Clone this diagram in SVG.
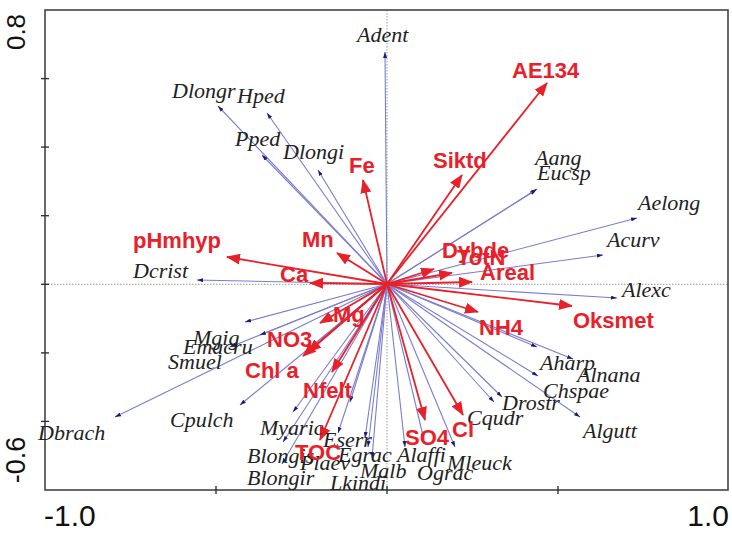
<svg xmlns="http://www.w3.org/2000/svg" width="732" height="533" viewBox="0 0 732 533">
<defs>
<style>
.sp{font-family:"Liberation Serif","Times New Roman",serif;font-style:italic;font-size:22px;fill:#222}
.env{font-family:"Liberation Sans",Arial,sans-serif;font-weight:bold;font-size:22px;fill:#e8202a}
.ax{font-family:"Liberation Sans",Arial,sans-serif;fill:#111}
.bl{stroke:#7c7cd0;stroke-width:1.1;fill:none;marker-end:url(#ahb)}
.rd{stroke:#e8202a;stroke-width:1.8;fill:none;marker-end:url(#ahr)}
.frame{stroke:#444;stroke-width:1.6;fill:none}
.dot{stroke:#9a9a9a;stroke-width:1;stroke-dasharray:1.5 1.5;fill:none}
.tick{stroke:#333;stroke-width:1.4}
</style>
<marker id="ahr" markerUnits="userSpaceOnUse" markerWidth="14" markerHeight="11" refX="13" refY="5.5" orient="auto"><path d="M0,0 L14,5.5 L0,11 z" fill="#e8202a"/></marker>
<marker id="ahb" markerUnits="userSpaceOnUse" markerWidth="6" markerHeight="4" refX="6" refY="2" orient="auto"><path d="M0,0 L6,2 L0,4 z" fill="#1a1a7a"/></marker>
</defs>
<rect x="0" y="0" width="732" height="533" fill="#fff"/>
<g id="axes">
<line class="dot" x1="387" y1="10" x2="387" y2="490"/>
<line class="dot" x1="45" y1="284.3" x2="728" y2="284.3"/>
<rect class="frame" x="45" y="10" width="683" height="480"/>
<line class="tick" x1="41" y1="78.6" x2="49" y2="78.6"/>
<line class="tick" x1="41" y1="147.1" x2="49" y2="147.1"/>
<line class="tick" x1="41" y1="215.7" x2="49" y2="215.7"/>
<line class="tick" x1="41" y1="284.3" x2="49" y2="284.3"/>
<line class="tick" x1="41" y1="352.9" x2="49" y2="352.9"/>
<line class="tick" x1="41" y1="421.4" x2="49" y2="421.4"/>
<line class="tick" x1="216" y1="486" x2="216" y2="494"/>
<line class="tick" x1="387" y1="486" x2="387" y2="494"/>
<line class="tick" x1="558" y1="486" x2="558" y2="494"/>
<text class="ax" font-size="26" text-anchor="middle" transform="translate(25,32) rotate(-90)">0.8</text>
<text class="ax" font-size="27" text-anchor="middle" transform="translate(25,460) rotate(-90)">-0.6</text>
<text class="ax" font-size="30" x="44" y="526">-1.0</text>
<text class="ax" font-size="30" x="729" y="526" text-anchor="end">1.0</text>
</g>
<g id="connectors">
<line class="bl" x1="387" y1="284" x2="218" y2="106"/>
<line class="bl" x1="387" y1="284" x2="267" y2="113"/>
<line class="bl" x1="387" y1="284" x2="262" y2="155"/>
<line class="bl" x1="387" y1="284" x2="318" y2="170"/>
<line class="bl" x1="387" y1="284" x2="385" y2="52"/>
<line class="bl" x1="387" y1="284" x2="536" y2="190"/>
<line class="bl" x1="387" y1="284" x2="537" y2="189"/>
<line class="bl" x1="387" y1="284" x2="637" y2="218"/>
<line class="bl" x1="387" y1="284" x2="603" y2="255"/>
<line class="bl" x1="387" y1="284" x2="617" y2="298"/>
<line class="bl" x1="387" y1="284" x2="537" y2="347"/>
<line class="bl" x1="387" y1="284" x2="573" y2="359"/>
<line class="bl" x1="387" y1="284" x2="538" y2="376"/>
<line class="bl" x1="387" y1="284" x2="580" y2="417"/>
<line class="bl" x1="387" y1="284" x2="502" y2="397"/>
<line class="bl" x1="387" y1="284" x2="494" y2="402"/>
<line class="bl" x1="387" y1="284" x2="455" y2="447"/>
<line class="bl" x1="387" y1="284" x2="424" y2="440"/>
<line class="bl" x1="387" y1="284" x2="405" y2="447"/>
<line class="bl" x1="387" y1="284" x2="368" y2="447"/>
<line class="bl" x1="387" y1="284" x2="365" y2="438"/>
<line class="bl" x1="387" y1="284" x2="372" y2="458"/>
<line class="bl" x1="387" y1="284" x2="350" y2="402"/>
<line class="bl" x1="387" y1="284" x2="338" y2="433"/>
<line class="bl" x1="387" y1="284" x2="282" y2="464"/>
<line class="bl" x1="387" y1="284" x2="283" y2="442"/>
<line class="bl" x1="387" y1="284" x2="293" y2="412"/>
<line class="bl" x1="387" y1="284" x2="240" y2="405"/>
<line class="bl" x1="387" y1="284" x2="115" y2="417"/>
<line class="bl" x1="387" y1="284" x2="230" y2="347"/>
<line class="bl" x1="387" y1="284" x2="260" y2="335"/>
<line class="bl" x1="387" y1="284" x2="245" y2="322"/>
<line class="bl" x1="387" y1="284" x2="197" y2="280"/>
<line class="rd" x1="387" y1="284" x2="547" y2="83"/>
<line class="rd" x1="387" y1="284" x2="462" y2="175"/>
<line class="rd" x1="387" y1="284" x2="363" y2="180"/>
<line class="rd" x1="387" y1="284" x2="337" y2="253"/>
<line class="rd" x1="387" y1="284" x2="227" y2="257"/>
<line class="rd" x1="387" y1="284" x2="310" y2="283"/>
<line class="rd" x1="387" y1="284" x2="434" y2="269"/>
<line class="rd" x1="387" y1="284" x2="452" y2="273"/>
<line class="rd" x1="387" y1="284" x2="472" y2="282"/>
<line class="rd" x1="387" y1="284" x2="572" y2="306"/>
<line class="rd" x1="387" y1="284" x2="478" y2="312"/>
<line class="rd" x1="387" y1="284" x2="463" y2="415"/>
<line class="rd" x1="387" y1="284" x2="425" y2="420"/>
<line class="rd" x1="387" y1="284" x2="320" y2="440"/>
<line class="rd" x1="387" y1="284" x2="332" y2="372"/>
<line class="rd" x1="387" y1="284" x2="303" y2="356"/>
<line class="rd" x1="387" y1="284" x2="308" y2="352"/>
<line class="rd" x1="387" y1="284" x2="320" y2="323"/>
</g>
<g id="n-Adent"><text class="sp" x="357" y="42">Adent</text></g>
<g id="n-Dlongr"><text class="sp" x="172" y="98">Dlongr</text></g>
<g id="n-Hped"><text class="sp" x="237" y="103">Hped</text></g>
<g id="n-Pped"><text class="sp" x="235" y="146">Pped</text></g>
<g id="n-Dlongi"><text class="sp" x="283" y="159">Dlongi</text></g>
<g id="n-Aang"><text class="sp" x="535" y="165">Aang</text></g>
<g id="n-Eucsp"><text class="sp" x="537" y="180">Eucsp</text></g>
<g id="n-Aelong"><text class="sp" x="638" y="210">Aelong</text></g>
<g id="n-Acurv"><text class="sp" x="607" y="247">Acurv</text></g>
<g id="n-Dcrist"><text class="sp" x="133" y="278">Dcrist</text></g>
<g id="n-Alexc"><text class="sp" x="622" y="297">Alexc</text></g>
<g id="n-Mgig"><text class="sp" x="193" y="345">Mgig</text></g>
<g id="n-Emacru"><text class="sp" x="183" y="354">Emacru</text></g>
<g id="n-Smuel"><text class="sp" x="168" y="369">Smuel</text></g>
<g id="n-Aharp"><text class="sp" x="540" y="370">Aharp</text></g>
<g id="n-Alnana"><text class="sp" x="577" y="382">Alnana</text></g>
<g id="n-Chspae"><text class="sp" x="543" y="398">Chspae</text></g>
<g id="n-Drostr"><text class="sp" x="502" y="410">Drostr</text></g>
<g id="n-Cpulch"><text class="sp" x="170" y="427">Cpulch</text></g>
<g id="n-Cqudr"><text class="sp" x="467" y="425">Cqudr</text></g>
<g id="n-Dbrach"><text class="sp" x="38" y="440">Dbrach</text></g>
<g id="n-Algutt"><text class="sp" x="583" y="438">Algutt</text></g>
<g id="n-Myaric"><text class="sp" x="260" y="435">Myaric</text></g>
<g id="n-Eserr"><text class="sp" x="323" y="447">Eserr</text></g>
<g id="n-Blongis"><text class="sp" x="247" y="463">Blongis</text></g>
<g id="n-Egrac"><text class="sp" x="338" y="462">Egrac</text></g>
<g id="n-Alaffi"><text class="sp" x="397" y="462">Alaffi</text></g>
<g id="n-Mleuck"><text class="sp" x="447" y="470">Mleuck</text></g>
<g id="n-Plaev"><text class="sp" x="300" y="470">Plaev</text></g>
<g id="n-Malb"><text class="sp" x="360" y="478">Malb</text></g>
<g id="n-Ograc"><text class="sp" x="417" y="480">Ograc</text></g>
<g id="n-Blongir"><text class="sp" x="247" y="485">Blongir</text></g>
<g id="n-Lkindi"><text class="sp" x="330" y="490">Lkindi</text></g>
<g id="n-AE134"><text class="env" x="512" y="78">AE134</text></g>
<g id="n-Siktd"><text class="env" x="433" y="168">Siktd</text></g>
<g id="n-Fe"><text class="env" x="349" y="173">Fe</text></g>
<g id="n-Mn"><text class="env" x="302" y="247">Mn</text></g>
<g id="n-pHmhyp"><text class="env" x="133" y="248">pHmhyp</text></g>
<g id="n-Ca"><text class="env" x="280" y="282">Ca</text></g>
<g id="n-Dybde"><text class="env" x="442" y="258">Dybde</text></g>
<g id="n-TotN"><text class="env" x="457" y="265">TotN</text></g>
<g id="n-Areal"><text class="env" x="480" y="280">Areal</text></g>
<g id="n-Oksmet"><text class="env" x="573" y="328">Oksmet</text></g>
<g id="n-NH4"><text class="env" x="479" y="335">NH4</text></g>
<g id="n-Mg"><text class="env" x="333" y="322">Mg</text></g>
<g id="n-NO3"><text class="env" x="267" y="347">NO3</text></g>
<g id="n-Chla"><text class="env" x="245" y="378">Chl a</text></g>
<g id="n-Nfelt"><text class="env" x="303" y="398">Nfelt</text></g>
<g id="n-TOC"><text class="env" x="295" y="460">TOC</text></g>
<g id="n-SO4"><text class="env" x="405" y="445">SO4</text></g>
<g id="n-Cl"><text class="env" x="452" y="437">Cl</text></g>
</svg>
